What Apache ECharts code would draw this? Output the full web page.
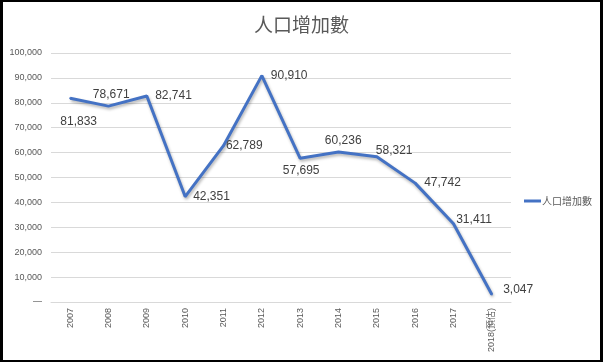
<!DOCTYPE html>
<html>
<head>
<meta charset="utf-8">
<script src="https://cdn.jsdelivr.net/npm/echarts@6/dist/echarts.min.js"></script>
<style>
html,body{margin:0;padding:0;background:#000;}
#frame{position:absolute;left:0;top:0;width:603px;height:362px;background:#000;}
#chart{position:absolute;left:3px;top:2px;width:597px;height:358px;background:#fff;}
</style>
</head>
<body>
<div id="frame"><div id="chart"></div></div>
<script>
const titleText = '人口增加數';
const seriesName = '人口增加數';
const categories = ['2007','2008','2009','2010','2011','2012','2013','2014','2015','2016','2017','2018(預估)'];
const values = [81833, 78671, 82741, 42351, 62789, 90910, 57695, 60236, 58321, 47742, 31411, 3047];

// label placement (style only): [align, dx, dy]
const labelPlace = [
  ['center', 8.5, 23.5],
  ['center', 2.7, -11],
  ['left', 8.3, 0],
  ['left', 8, 0],
  ['left', 2.4, 0],
  ['left', 9, 0],
  ['center', 1, 12.7],
  ['center', 4.7, -11],
  ['left', -1, -6],
  ['left', 9, 0],
  ['left', 2.7, -4],
  ['left', 11.3, -5]
];

const fmt = v => v.toLocaleString('en-US');

const chart = echarts.init(document.getElementById('chart'), null, {renderer: 'canvas'});
chart.setOption({
  backgroundColor: '#fff',
  animation: false,
  title: {
    text: titleText,
    left: 'center',
    top: 13,
    padding: 0,
    textStyle: {fontFamily: '"Noto Sans CJK TC", sans-serif', fontSize: 19, fontWeight: 'normal', color: '#595959'}
  },
  legend: {
    data: [seriesName],
    orient: 'vertical',
    left: 521,
    top: 194,
    padding: 0,
    icon: 'rect',
    itemWidth: 17,
    itemHeight: 3,
    itemGap: 0,
    textStyle: {fontFamily: '"Noto Sans CJK TC", sans-serif', fontSize: 10, color: '#595959', padding: [0,0,0,-4]}
  },
  grid: {left: 48, top: 51, width: 460, height: 249, containLabel: false},
  xAxis: {
    type: 'category',
    data: categories,
    boundaryGap: true,
    axisLine: {lineStyle: {color: '#D9D9D9', width: 1}},
    axisTick: {show: false},
    axisLabel: {rotate: 90, margin: 6, fontSize: 9, color: '#595959', fontFamily: '"Liberation Sans", "Noto Sans CJK TC", sans-serif', interval: 0}
  },
  yAxis: {
    type: 'value',
    min: 0,
    max: 100000,
    interval: 10000,
    axisLine: {show: false},
    axisTick: {show: false},
    splitLine: {lineStyle: {color: '#D9D9D9', width: 1}},
    axisLabel: {
      margin: 9,
      fontSize: 9,
      color: '#595959',
      fontFamily: '"Liberation Sans", sans-serif',
      formatter: v => v === 0 ? '—' : fmt(v)
    }
  },
  series: [{
    name: seriesName,
    type: 'line',
    data: values.map((v, i) => ({
      value: v,
      label: {
        show: true,
        position: 'inside',
        align: labelPlace[i][0],
        verticalAlign: 'middle',
        offset: [labelPlace[i][1], labelPlace[i][2]],
        formatter: p => fmt(p.value),
        fontSize: 12,
        color: '#404040',
        fontFamily: '"Liberation Sans", sans-serif'
      }
    })),
    symbol: 'circle',
    symbolSize: 2,
    showSymbol: true,
    itemStyle: {color: '#4472C4'},
    lineStyle: {
      color: '#4472C4',
      width: 3,
      shadowColor: 'rgba(0,0,0,0.3)',
      shadowBlur: 3,
      shadowOffsetX: 1,
      shadowOffsetY: 2
    },
    emphasis: {disabled: true}
  }]
});
</script>
</body>
</html>
